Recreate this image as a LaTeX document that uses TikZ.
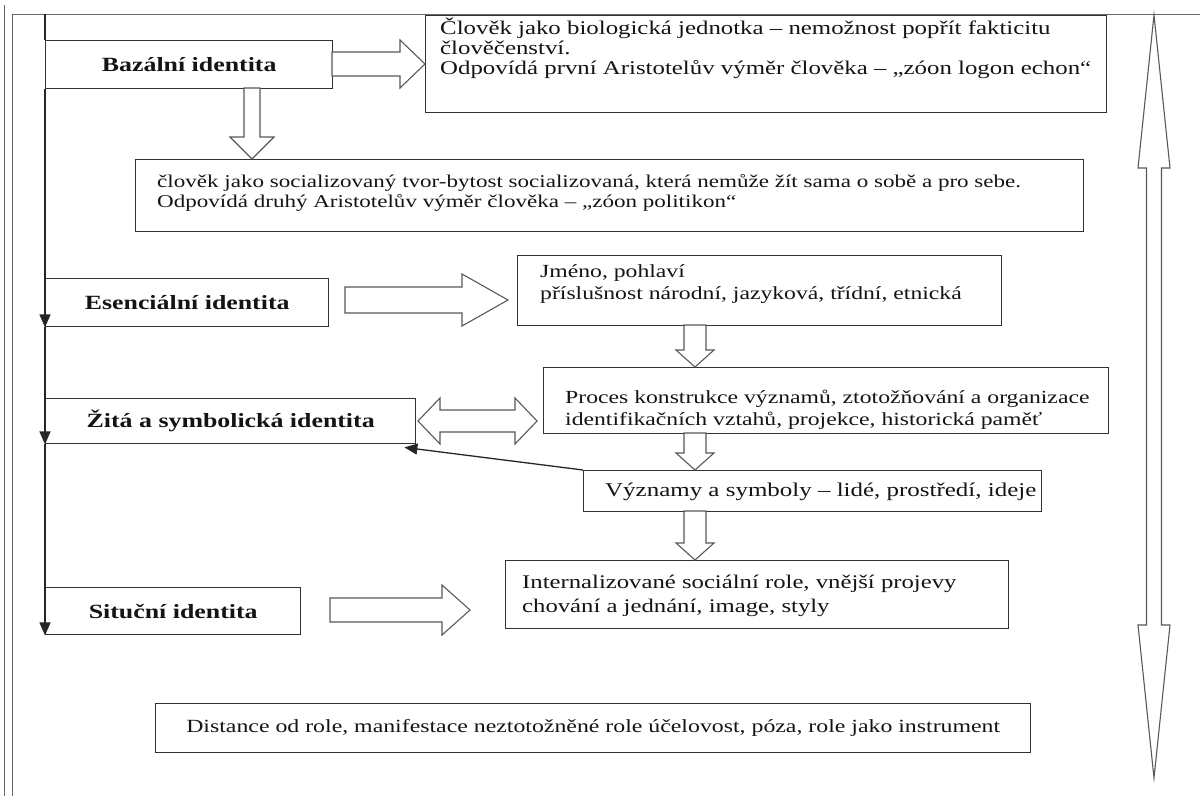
\documentclass[tikz,border=0pt]{standalone}
\usepackage{fontspec}
\setmainfont{Liberation Serif}[FakeStretch=1.28]
\usetikzlibrary{arrows.meta}
% hollow block arrows: right, down, double horizontal, double vertical
\newcommand{\hollowRight}[6]{% x1 x2 yc shafthalf headhalf headlen
  \draw[hol] (#1,#3-#4) -- (#2-#6,#3-#4) -- (#2-#6,#3-#5) -- (#2,#3) -- (#2-#6,#3+#5) -- (#2-#6,#3+#4) -- (#1,#3+#4) -- cycle;}
\newcommand{\hollowDown}[6]{% xc y1 y2 shafthalf headhalf headlen
  \draw[hol] (#1-#4,#2) -- (#1-#4,#3-#6) -- (#1-#5,#3-#6) -- (#1,#3) -- (#1+#5,#3-#6) -- (#1+#4,#3-#6) -- (#1+#4,#2) -- cycle;}
\newcommand{\hollowLR}[6]{% x1 x2 yc shafthalf headhalf headlen
  \draw[hol] (#1,#3) -- (#1+#6,#3-#5) -- (#1+#6,#3-#4) -- (#2-#6,#3-#4) -- (#2-#6,#3-#5) -- (#2,#3) -- (#2-#6,#3+#5) -- (#2-#6,#3+#4) -- (#1+#6,#3+#4) -- (#1+#6,#3+#5) -- cycle;}
\newcommand{\hollowUD}[6]{% xc y1 y2 shafthalf headhalf headlen
  \draw[hol] (#1,#2) -- (#1+#5,#2+#6) -- (#1+#4,#2+#6) -- (#1+#4,#3-#6) -- (#1+#5,#3-#6) -- (#1,#3) -- (#1-#5,#3-#6) -- (#1-#4,#3-#6) -- (#1-#4,#2+#6) -- (#1-#5,#2+#6) -- cycle;}
\newcommand{\boxlines}[2]{\parbox[t]{#1}{\raggedright #2}}
\begin{document}
\begin{tikzpicture}[x=1pt,y=-1pt,
  rect/.style={draw=black!80, line width=1.4pt, fill=white, inner sep=0pt, anchor=north west},
  txt/.style={inner sep=0pt, anchor=base west, text=black!92},
  lbl/.style={rect, text=black!92, font=\bfseries\fontsize{20.2}{22}\selectfont},
  hol/.style={draw=black!65, line width=1.1pt, fill=white, line join=miter},
  frame/.style={draw=black!60, line width=1pt},
  flow/.style={draw=black!85, line width=1.3pt},
  tip/.style={-{Triangle[width=11pt,length=13pt]}}
]
\useasboundingbox (0,0) rectangle (1200,796);
\fill[white] (0,0) rectangle (1200,796);

% page frame
\draw[frame] (4,5) -- (4,796);
\draw[frame] (12,796) -- (12,14) -- (1200,14);

% left identity boxes
\node[lbl, minimum width=287, minimum height=48] (baz) at (45,40) {Bazální identita};
\node[lbl, minimum width=283, minimum height=48] (esen) at (45,278) {Esenciální identita};
\node[lbl, minimum width=370, minimum height=45] (zita) at (45,398) {Žitá a symbolická identita};
\node[lbl, minimum width=255, minimum height=47] (sit) at (45,587) {Situční identita};

% content boxes (frames)
\node[rect, minimum width=681, minimum height=97] (b1) at (425,15) {};
\node[rect, minimum width=948, minimum height=72] (b2) at (135,159) {};
\node[rect, minimum width=484, minimum height=70] (jm) at (517,255) {};
\node[rect, minimum width=565, minimum height=66] (proc) at (543,367) {};
\node[rect, minimum width=458, minimum height=41] (vyz) at (583,470) {};
\node[rect, minimum width=503, minimum height=68] (intern) at (505,560) {};
\node[rect, minimum width=875, minimum height=49, text=black!92,
  font=\fontsize{18.6}{22}\selectfont] (dist) at (155,703)
  {Distance od role, manifestace neztotožněné role účelovost, póza, role jako instrument};

% texts of the content boxes
\node[txt, font=\fontsize{19.4}{20}\selectfont] (b1t) at (440,34)
  {\boxlines{670pt}{Člověk jako biologická jednotka – nemožnost popřít fakticitu\\člověčenství.\\Odpovídá první Aristotelův výměr člověka – „zóon logon echon“}};
\node[txt, font=\fontsize{18}{20}\selectfont] (b2t) at (157,187)
  {\boxlines{920pt}{člověk jako socializovaný tvor-bytost socializovaná, která nemůže žít sama o sobě a pro sebe.\\Odpovídá druhý Aristotelův výměr člověka – „zóon politikon“}};
\node[txt, font=\fontsize{18.5}{22}\selectfont] (jmt) at (540,277)
  {\boxlines{450pt}{Jméno, pohlaví\\příslušnost národní, jazyková, třídní, etnická}};
\node[txt, font=\fontsize{18.5}{22}\selectfont] (proct) at (565,403)
  {\boxlines{540pt}{Proces konstrukce významů, ztotožňování a organizace\\identifikačních vztahů, projekce, historická paměť}};
\node[txt, font=\fontsize{19.5}{22}\selectfont] (vyzt) at (605,496)
  {Významy a symboly – lidé, prostředí, ideje};
\node[txt, font=\fontsize{19.3}{24}\selectfont] (internt) at (522,588)
  {\boxlines{480pt}{Internalizované sociální role, vnější projevy\\chování a jednání, image, styly}};

% main vertical flow line
\coordinate (top) at (45,14);
\draw[flow] (top) -- (baz.north west);
\draw[flow,tip] (baz.south west) -- (esen.south west);
\draw[flow,tip] (esen.south west) -- (zita.south west);
\draw[flow,tip] (zita.south west) -- (sit.south west);

% diagonal arrow
\draw[flow,tip] (vyz.north west) -- ([xshift=-12pt,yshift=-3pt]zita.south east);

% hollow block arrows
\hollowRight{332}{425}{64}{12}{24}{25}
\hollowDown{252}{88}{159}{8}{22}{22}
\hollowRight{345}{508}{300}{13}{26}{46}
\hollowDown{695}{325}{367}{11}{19}{17}
\hollowLR{418}{537}{421}{11}{23}{22}
\hollowDown{695}{433}{470}{11}{19}{17}
\hollowDown{695}{511}{560}{11}{19}{17}
\hollowRight{330}{470}{610}{12}{25}{28}
\hollowUD{1154}{15}{778}{7.5}{16}{153}
\end{tikzpicture}
\end{document}
